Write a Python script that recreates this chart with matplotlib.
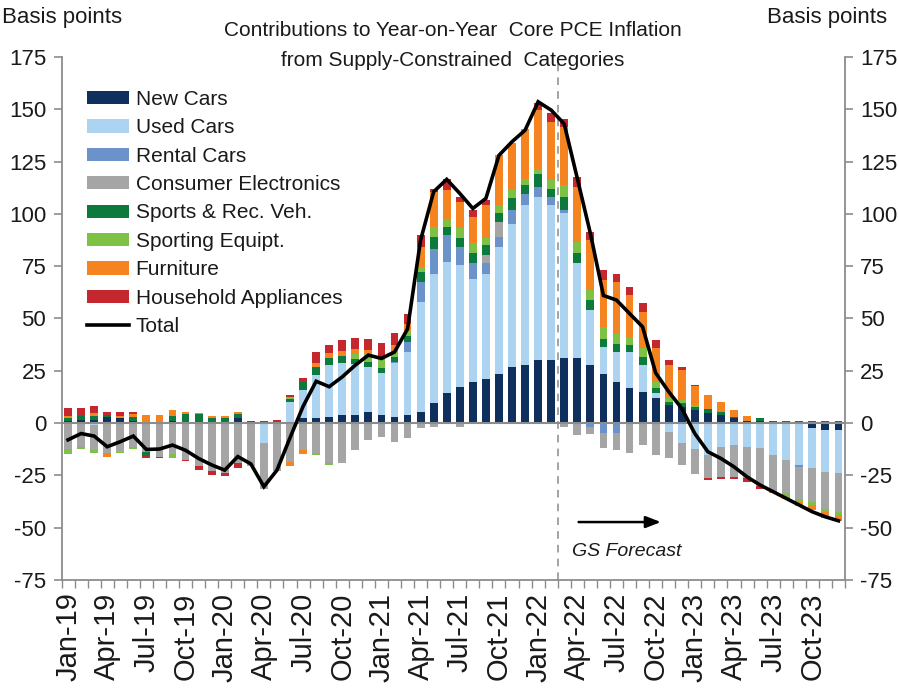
import numpy as np
import pandas as pd
import matplotlib
matplotlib.use('Agg')
import matplotlib.pyplot as plt
from matplotlib import font_manager as fm

# ---------------- data ----------------
months = pd.date_range('2019-01-01', '2023-12-01', freq='MS').strftime('%b-%y').tolist()

new_cars = [1, 1.4, 1.4, 3, 2.2, 1.1, 0.5, 0.5, 1, 0.3,
            0.5, 0.2, 0, 2.3, 0, 0, 0, 0, 2.2, 2.2,
            3, 3.8, 3.8, 5.4, 3.8, 3, 3.8, 5.4, 9.4, 14.2,
            17.4, 19.7, 21.3, 23.7, 26.9, 27.7, 30.1, 30.1, 30.9, 30.9,
            27.7, 23.7, 19.7, 16.6, 15, 11.8, 8.6, 7.8, 6.2, 4.9,
            3.8, 2.2, 1.1, 1.1, 0.6, 0.6, 0, -2.5, -3.3, -3.3]
used_cars = [0, 0, -1, 0, 0, 0, 0, 0, 0, 0,
             0, 0, 0, 0, 0, -9.5, 0, 10, 13.5, 20.7,
             24.7, 25, 24.5, 21.5, 20, 25.5, 30, 52.5, 62.1, 62.9,
             58.1, 49.4, 50.2, 60.5, 68.5, 76.4, 78, 74, 69.3, 45.4,
             26.3, 12.7, 14.3, 17.5, 12.7, 2.4, -4.1, -9.7, -12.5, -15.3,
             -11.3, -10.5, -11.3, -12.1, -15.3, -17.7, -20, -19.1, -19.9, -20.5]
rental_cars = [0, 0, 0, 0, 0, 0, 0, 0, 0, 0,
               0, 0, 0, 0, 0, 0, 0, 0, 0, 0,
               0, 0, 0, 0, 0, 0.8, 4.8, 9.6, 11.9, 12.7,
               8.8, 7.2, 4.8, 4.8, 6.4, 5.6, 4.8, 4, 1.5, 0,
               -2, -4.8, -4.9, 0, 0, 0, 0, 0, 0, 0,
               0, 0, 0, 0, 0, 0, -0.8, 0, 0, 0]
consumer_electronics = [-12.5, -11.3, -12, -14.5, -13.7, -11.3, -14, -16, -15, -17.5,
                        -20.7, -23, -23.9, -19, -20.5, -22, -23, -18.5, -13, -14.5,
                        -19.3, -19.3, -12.9, -8.1, -6.8, -8.9, -7.3, -2.5, -1.8, 0,
                        -1.8, 0, 4, 7.2, 0, 0, 0, 0, -1.8, -5.7,
                        -3, -7.2, -8, -14.5, -10.5, -15.3, -12.7, -10.5, -12, -11,
                        -14.3, -15.1, -15.1, -18, -17, -15.9, -15.5, -15.9, -18, -18.5]
sports_rec_veh = [1.5, 1.9, 1.9, 0.8, 0, 1.9, -1.5, 0, 2.2, 4,
                  3.7, 2.2, 2.4, 2, 1.2, 1, 0, 1.6, 4, 4,
                  3.2, 3.2, 2.4, 2.4, 2.4, 2.4, 3.2, 4.8, 5.6, 4,
                  4, 4.8, 4.8, 4, 5.6, 4, 6.4, 4, 6.4, 4.8,
                  4.8, 4, 4, 3.2, 4, 2.4, 1.6, 1.6, 1.6, 2,
                  1.6, 0.8, 0, 1.1, 0.6, 0.6, 0.8, 1.1, 1, 0.8]
sporting_equipt = [-2.5, -1.3, -1.5, 0, -0.8, -1.3, 0, 0, -1.6, 0,
                   0, 0, 0, 0, 0, 0, 0, 0.8, 0, -0.8,
                   -0.8, 0, 2.4, 4, 4, 2.4, 2.4, 2.4, 4.8, 4,
                   4.8, 4.8, 3.2, 4, 4, 3.2, 2.4, 4, 5.6, 5.6,
                   4.8, 5.6, 4.8, 4, 4, 3.2, 1.6, 1.6, 0.8, 0,
                   0, 0, 0, 0, 0, -1.6, -1.6, -1.6, -1.3, -1.6]
furniture = [1, 0, 1.3, -1.6, 1.1, 1.5, 3.5, 3.5, 3.3, 1,
             0.8, 0.8, 0.8, 1, 0, 0, 0.7, -1.8, -2, 1.9,
             2.4, 2.5, 2.4, 1.6, 1.6, 3.2, 3, 9.6, 16.7, 13.5,
             12.7, 12.7, 15.9, 23.9, 22.3, 23.9, 27.9, 27.9, 27.9, 26.3,
             23.9, 22.3, 24.7, 19.9, 17.5, 15.9, 16, 14.3, 9, 6.4,
             4.8, 3.2, 2.2, 0, -1.3, -1.2, -1.6, -2.4, -2.7, -3]
household_appliances = [3.5, 3.7, 3.7, 1.6, 1.8, 0.6, -1.1, -0.8, 0, -0.8,
                        -1.6, -1.6, -1.6, -2.4, 0, 0, 0.8, 0.8, 1.9, 5.3,
                        4, 5.4, 5.3, 5.1, 6.4, 5.9, 4.8, 5.6, 1.5, 5.6,
                        2.4, 3.2, 2.4, 0, 0, 0, 3.2, 4, 4, 4.8,
                        4, 4.8, 4, 4, 4, 4, 2.4, 1.6, 0.8, -1.1,
                        -1.3, -1.3, -1.6, -1.3, 0, 0, 0, 0, 0, 0]
total = [-8, -5, -6.2, -11.3, -8.9, -6.2, -12.6, -12.4, -10.5, -13,
         -16.9, -20, -22.5, -16, -19.5, -30.4, -22.5, -7, 8, 20,
         17.4, 22.1, 27.7, 32.5, 30.9, 34, 45, 87.5, 110.6, 116.5,
         109.8, 102.6, 107.4, 128, 134.5, 140, 153.6, 149.6, 143, 117,
         90.7, 61, 58.8, 52.4, 46, 24, 15, 7, -5, -13.7,
         -16.9, -20.9, -25.7, -29.6, -32.8, -36, -39.2, -42.4, -44.8, -46.7]

series_names = ["New Cars", "Used Cars", "Rental Cars", "Consumer Electronics",
                "Sports & Rec. Veh.", "Sporting Equipt.", "Furniture", "Household Appliances"]
series_values = [new_cars, used_cars, rental_cars, consumer_electronics,
                 sports_rec_veh, sporting_equipt, furniture, household_appliances]
series_colors = ["#0f2f5c", "#acd4f1", "#6b93c9", "#a5a5a5",
                 "#0c7a3d", "#7dc244", "#f5831f", "#c4282e"]

# ---------------- fonts ----------------
def has_font(name):
    try:
        fm.findfont(fm.FontProperties(family=name), fallback_to_default=False)
        return True
    except Exception:
        return False

if has_font('Liberation Sans Narrow'):
    HFONT, HSIZE = 'Liberation Sans Narrow', 18
else:
    HFONT, HSIZE = 'Liberation Sans', 15
RFONT = 'Liberation Sans'
TXT = '#1a1a1a'
AXC = '#8c8c8c'

# ---------------- figure ----------------
W, H = 899, 689
fig = plt.figure(figsize=(W / 100, H / 100), dpi=100)
L, R, T, B = 61.5, 845, 57, 580
ax = fig.add_axes([L / W, 1 - B / H, (R - L) / W, (B - T) / H])

n = len(months)
x = np.arange(n)
pos = np.zeros(n)
neg = np.zeros(n)
handles = []
for name, vals, col in zip(series_names, series_values, series_colors):
    v = np.array(vals, float)
    bottom = np.where(v >= 0, pos, neg)
    bc = ax.bar(x, v, 0.6, bottom=bottom, color=col, label=name, zorder=2, linewidth=0)
    handles.append(bc)
    pos += np.clip(v, 0, None)
    neg += np.clip(v, None, 0)

ax.axhline(0, color=AXC, lw=1.5, zorder=2.5)
line, = ax.plot(x, total, color='black', lw=2.6, zorder=4, label='Total',
                solid_joinstyle='miter')
handles.append(line)
ax.axvline(37.5, color='#8a8a8a', lw=1.1, ls=(0, (5, 4)), zorder=3)

ax.set_xlim(-0.3, 59.0)
ax.set_ylim(-75, 175)

ax.spines['top'].set_visible(False)
for s in ['left', 'right', 'bottom']:
    ax.spines[s].set_color(AXC)
    ax.spines[s].set_linewidth(1.3)

# y ticks both sides
yt = np.arange(-75, 176, 25)
ax.set_yticks(yt)
ax.set_yticklabels([str(v) for v in yt], color=TXT)
ax.tick_params(axis='y', which='both', direction='out', length=6, width=1.2,
               color=AXC, left=True, right=True, labelleft=True, labelright=True, pad=5)
for tk in ax.yaxis.get_major_ticks():
    for lab in (tk.label1, tk.label2):
        lab.set_fontfamily(HFONT)
        lab.set_fontsize(HSIZE + 1)
        lab.set_color(TXT)

# x ticks
ax.set_xticks(x[::3])
ax.set_xticklabels(months[::3], rotation=90, fontfamily=RFONT, fontsize=21, color=TXT)
ax.set_xticks(np.arange(-0.5, n, 1), minor=True)
ax.tick_params(axis='x', which='major', length=0, pad=9)
ax.tick_params(axis='x', which='minor', length=6, width=1.0, color=AXC, direction='out')

# legend
leg = ax.legend(handles=handles, labels=series_names + ['Total'],
                loc='upper left', bbox_to_anchor=(87 / W, 1 - 90 / H),
                bbox_transform=fig.transFigure, frameon=False,
                prop={'family': HFONT, 'size': HSIZE}, handlelength=2.0,
                handleheight=0.6, handletextpad=0.33, labelspacing=0.45,
                borderpad=0, borderaxespad=0)
for t in leg.get_texts():
    t.set_color(TXT)

# texts
fig.text(2 / W, 1 - 18 / H, 'Basis points', ha='left', va='center',
         fontfamily=HFONT, fontsize=HSIZE + 1, color=TXT)
fig.text(887 / W, 1 - 18 / H, 'Basis points', ha='right', va='center',
         fontfamily=HFONT, fontsize=HSIZE + 1, color=TXT)
fig.text(453 / W, 1 - 30 / H, 'Contributions to Year-on-Year  Core PCE Inflation',
         ha='center', va='center', fontfamily=HFONT, fontsize=HSIZE, color=TXT)
fig.text(453 / W, 1 - 60 / H, 'from Supply-Constrained  Categories',
         ha='center', va='center', fontfamily=HFONT, fontsize=HSIZE, color=TXT)

ax.annotate('', xy=(45.4, -47.3), xytext=(39.1, -47.3),
            arrowprops=dict(arrowstyle='-|>,head_length=0.9,head_width=0.35',
                            color='black', lw=1.8, shrinkA=0, shrinkB=0))
ax.text(42.8, -61.5, 'GS Forecast', ha='center', va='center', style='italic',
        fontfamily=HFONT, fontsize=HSIZE - 1, color=TXT)

fig.savefig('out.png', dpi=100, facecolor='white')
